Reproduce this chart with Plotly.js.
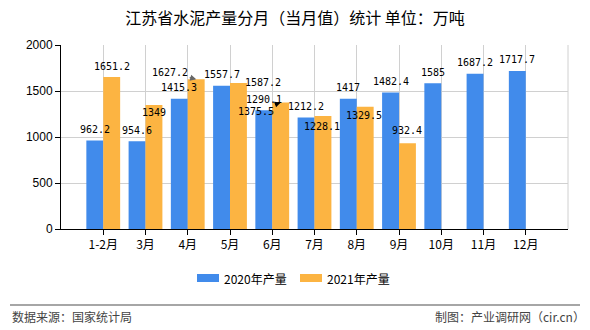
<!DOCTYPE html>
<html><head><meta charset="utf-8">
<script src="https://cdn.plot.ly/plotly-3.0.1.min.js"></script>
<style>html,body{margin:0;padding:0;background:#fff}#c{width:590px;height:330px}</style>
</head><body><div id="c"></div>
<script>
const categories = ['1-2月','3月','4月','5月','6月','7月','8月','9月','10月','11月','12月'];
const output2020 = [962.2, 954.6, 1415.3, 1557.7, 1290.1, 1212.2, 1417, 1482.4, 1585, 1687.2, 1717.7];
const output2021 = [1651.2, 1349, 1627.2, 1587.2, 1375.5, 1228.1, 1329.5, 932.4, null, null, null];
const seriesNames = ['2020年产量', '2021年产量'];
const yTicks = [0, 500, 1000, 1500, 2000];

// label placement tweaks (pixels, relative to default above-bar spot); arrow labels use leader arrows
const labelShift2021 = {1: [0, 19], 3: [25, 11], 5: [-1, 21], 6: [-1, 20], 7: [0, -2]};
const arrowLabels2021 = {2: [-26, -7, '#666'], 4: [-25, 9, '#000']};

const numFont = {family: 'DejaVu Sans Mono, monospace', size: 10, color: '#000'};
const cjk = 'Noto Sans CJK SC, sans-serif';
const colors = ['#418BEB', '#FCB442'];

// pixel -> paper helpers for the plot area (l=61, width 507, bottom 229, height 184)
const px = p => (p - 61) / 507;
const py = p => (229 - p) / 184;

const data = [output2020, output2021].map((vals, i) => ({
  type: 'bar', x: categories, y: vals, name: seriesNames[i],
  marker: {color: colors[i]}, hoverinfo: 'skip', showlegend: false
}));

const annotations = [];
[output2020, output2021].forEach((vals, s) => {
  vals.forEach((v, k) => {
    if (v == null) return;
    const xpos = k + (s === 0 ? -0.2 : 0.2);
    if (s === 1 && arrowLabels2021[k]) {
      const a = arrowLabels2021[k];
      annotations.push({x: xpos, y: v, xref: 'x', yref: 'y', text: String(v), font: numFont,
        showarrow: true, ax: a[0], ay: a[1], arrowhead: 2, arrowsize: 1, arrowwidth: 1.2, arrowcolor: a[2],
        standoff: 0});
      return;
    }
    const sh = (s === 1 && labelShift2021[k]) ? labelShift2021[k] : [0, 0];
    annotations.push({x: xpos, y: v, xref: 'x', yref: 'y', text: String(v), font: numFont,
      showarrow: false, xanchor: 'center', yanchor: 'middle', xshift: sh[0], yshift: 11 - sh[1]});
  });
});

// legend (drawn manually to get wide swatches)
const legendSwatchX = [197, 300];
const shapes = [
  {type: 'line', xref: 'paper', yref: 'paper', x0: 1, x1: 1, y0: 0, y1: 1, line: {color: '#d0d0d0', width: 1}},
  {type: 'line', xref: 'paper', yref: 'paper', x0: px(10), x1: px(580), y0: py(305), y1: py(305),
   line: {color: '#888', width: 1.5}}
];
seriesNames.forEach((n, i) => {
  const x0 = legendSwatchX[i];
  shapes.push({type: 'rect', xref: 'paper', yref: 'paper', x0: px(x0), x1: px(x0 + 22), y0: py(282), y1: py(274),
    fillcolor: colors[i], line: {width: 0}});
  annotations.push({text: n, xref: 'paper', yref: 'paper', x: px(x0 + 25), xanchor: 'left', y: py(278.5),
    yanchor: 'middle', showarrow: false, font: {family: cjk, size: 12, color: '#000'}});
});

annotations.push(
  {text: '数据来源：国家统计局', xref: 'paper', yref: 'paper', x: px(10), xanchor: 'left',
   y: py(316), yanchor: 'middle', showarrow: false, font: {family: cjk, size: 12, color: '#444'}},
  {text: '制图：产业调研网（cir.cn）', xref: 'paper', yref: 'paper', x: px(587), xanchor: 'right',
   y: py(316), yanchor: 'middle', showarrow: false, font: {family: cjk, size: 12, color: '#444'}}
);

const layout = {
  width: 590, height: 330,
  margin: {l: 61, r: 22, t: 45, b: 101},
  paper_bgcolor: '#fff', plot_bgcolor: '#fff',
  title: {text: '江苏省水泥产量分月（当月值）统计 单位：万吨', font: {family: cjk, size: 16, color: '#000'},
          x: 0.5, xanchor: 'center', y: 1 - 18/330, yref: 'container', yanchor: 'middle'},
  barmode: 'group', bargap: 0.2, bargroupgap: 0,
  xaxis: {type: 'category', range: [-1, 11], showgrid: true, gridcolor: '#d0d0d0', gridwidth: 1,
          showline: true, linecolor: '#000', linewidth: 1, ticks: 'outside', ticklen: 5, tickcolor: '#000',
          tickfont: {family: cjk, size: 12, color: '#000'}, tickangle: 0, automargin: false, zeroline: false},
  yaxis: {range: [0, 2000], tickvals: yTicks, showgrid: true, gridcolor: '#d0d0d0', gridwidth: 1,
          showline: true, linecolor: '#000', linewidth: 1, ticks: 'outside', ticklen: 5, tickcolor: '#000',
          tickfont: {family: 'Liberation Sans, sans-serif', size: 12, color: '#000'}, automargin: false, zeroline: false},
  showlegend: false,
  shapes: shapes,
  annotations: annotations
};
Plotly.newPlot('c', data, layout, {displayModeBar: false, staticPlot: true});
</script></body></html>
